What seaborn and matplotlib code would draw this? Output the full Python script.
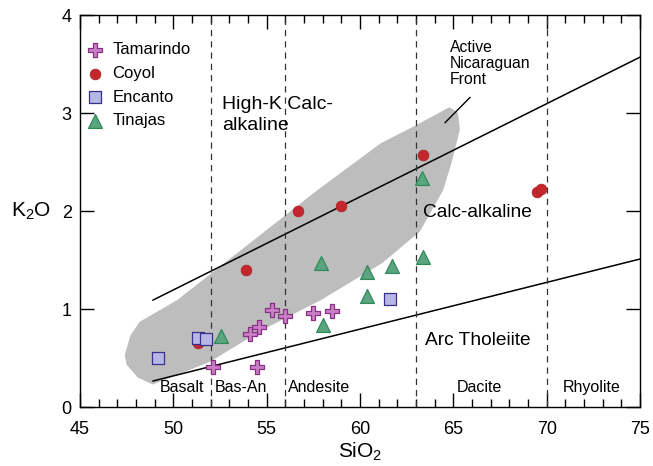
import numpy as np
import matplotlib
matplotlib.use("Agg")
import matplotlib.pyplot as plt
import seaborn as sns
from matplotlib.ticker import MultipleLocator

# sample data (SiO2, K2O)
tam_sio2 = [55.3, 56.0, 54.6, 54.1, 57.5, 58.5, 52.1, 54.5]
tam_k2o = [0.99, 0.93, 0.82, 0.74, 0.96, 0.98, 0.41, 0.41]

coy_sio2 = [51.3, 53.9, 56.7, 59.0, 63.4, 69.5, 69.7]
coy_k2o = [0.65, 1.40, 2.00, 2.05, 2.57, 2.19, 2.22]

enc_sio2 = [49.2, 51.3, 51.75, 61.6]
enc_k2o = [0.50, 0.70, 0.69, 1.10]

tin_sio2 = [52.55, 57.9, 60.4, 61.7, 63.4, 63.3, 60.4, 58.0]
tin_k2o = [0.72, 1.47, 1.38, 1.44, 1.53, 2.34, 1.13, 0.84]

# field of the active Nicaraguan front (grey)
front_sio2 = [47.4, 47.7, 48.2, 50.2, 57.7, 61.1, 63.05, 64.8, 65.25, 65.35,
              64.9, 64.45, 63.2, 61.2, 57.9, 54.8, 51.95, 48.9, 48.1, 47.5]
front_k2o = [0.53, 0.73, 0.87, 1.09, 2.21, 2.69, 2.88, 3.06, 3.0, 2.83,
             2.49, 2.21, 1.79, 1.47, 1.09, 0.79, 0.46, 0.23, 0.30, 0.43]

# series boundaries
highk_sio2 = [48.9, 75]
highk_k2o = [1.09, 3.57]
thol_sio2 = [48.9, 75]
thol_k2o = [0.265, 1.51]

# rock-name divisions
div_sio2 = [52, 56, 63, 70]
rock_names = ["Basalt", "Bas-An", "Andesite", "Dacite", "Rhyolite"]
rock_x = [50.45, 53.6, 57.8, 66.4, 72.4]

sns.set_style("ticks")
plt.rcParams["font.family"] = ["Liberation Sans", "DejaVu Sans"]
plt.rcParams["mathtext.default"] = "regular"
for key in ["text.color", "axes.labelcolor", "xtick.color", "ytick.color", "axes.edgecolor"]:
    plt.rcParams[key] = "black"

fig = plt.figure(figsize=(6.53, 4.66), dpi=100)
ax = fig.add_axes([0.1225, 0.1266, 0.8576, 0.8412])

ax.fill(front_sio2, front_k2o, color="#bcbdbc", lw=0, zorder=1)

sns.lineplot(x=highk_sio2, y=highk_k2o, color="black", lw=1.1, ax=ax, zorder=2)
sns.lineplot(x=thol_sio2, y=thol_k2o, color="black", lw=1.1, ax=ax, zorder=2)
for d in div_sio2:
    ax.axvline(d, color="#333333", lw=0.9, dashes=(5, 4), zorder=2)

sns.scatterplot(x=tam_sio2, y=tam_k2o, marker="P", s=95, color="#c97fc3",
                edgecolor="#8a2f88", linewidth=0.9, label="Tamarindo", ax=ax, zorder=3)
sns.scatterplot(x=coy_sio2, y=coy_k2o, marker="o", s=60, color="#c1272d",
                edgecolor="#b01e24", linewidth=0.5, label="Coyol", ax=ax, zorder=3)
sns.scatterplot(x=enc_sio2, y=enc_k2o, marker="s", s=75, color="#b7b7e6",
                edgecolor="#3b2f8e", linewidth=0.9, label="Encanto", ax=ax, zorder=3)
sns.scatterplot(x=tin_sio2, y=tin_k2o, marker="^", s=100, color="#5aa57f",
                edgecolor="#2f8a5b", linewidth=0.9, label="Tinajas", ax=ax, zorder=3)

ax.legend(loc="upper left", bbox_to_anchor=(0.012, 0.93), frameon=False,
          borderaxespad=0, borderpad=0, handlelength=1.0, handletextpad=0.55,
          labelspacing=0.52, fontsize=12)

# region labels
ax.text(52.6, 3.17, "High-K Calc-\nalkaline", fontsize=14, va="top", ha="left", linespacing=1.25)
ax.text(63.35, 1.98, "Calc-alkaline", fontsize=13.8, va="center", ha="left")
ax.text(63.5, 0.68, "Arc Tholeiite", fontsize=13.8, va="center", ha="left")
ax.text(64.8, 3.75, "Active\nNicaraguan\nFront", fontsize=11.3, va="top", ha="left", linespacing=1.1)
ax.plot([65.9, 64.55], [3.16, 2.90], color="black", lw=1.0)
for name, xx in zip(rock_names, rock_x):
    ax.text(xx, 0.2, name, fontsize=11.5, ha="center", va="center")

ax.set_xlim(45, 75)
ax.set_ylim(0, 4)
ax.xaxis.set_major_locator(MultipleLocator(5))
ax.xaxis.set_minor_locator(MultipleLocator(1))
ax.yaxis.set_major_locator(MultipleLocator(1))
ax.tick_params(which="both", direction="in", top=True, right=True, labelsize=13, width=1.0)
ax.tick_params(which="major", length=10)
ax.tick_params(which="minor", length=6)
ax.tick_params(axis="x", which="major", pad=10)
ax.tick_params(axis="y", which="major", pad=6)
for sp in ax.spines.values():
    sp.set_linewidth(1.0)

ax.set_xlabel("SiO$_2$", fontsize=15, labelpad=2)
ax.set_ylabel("K$_2$O", fontsize=15, rotation=0, labelpad=22, va="center")

fig.savefig("out.png", dpi=100)
